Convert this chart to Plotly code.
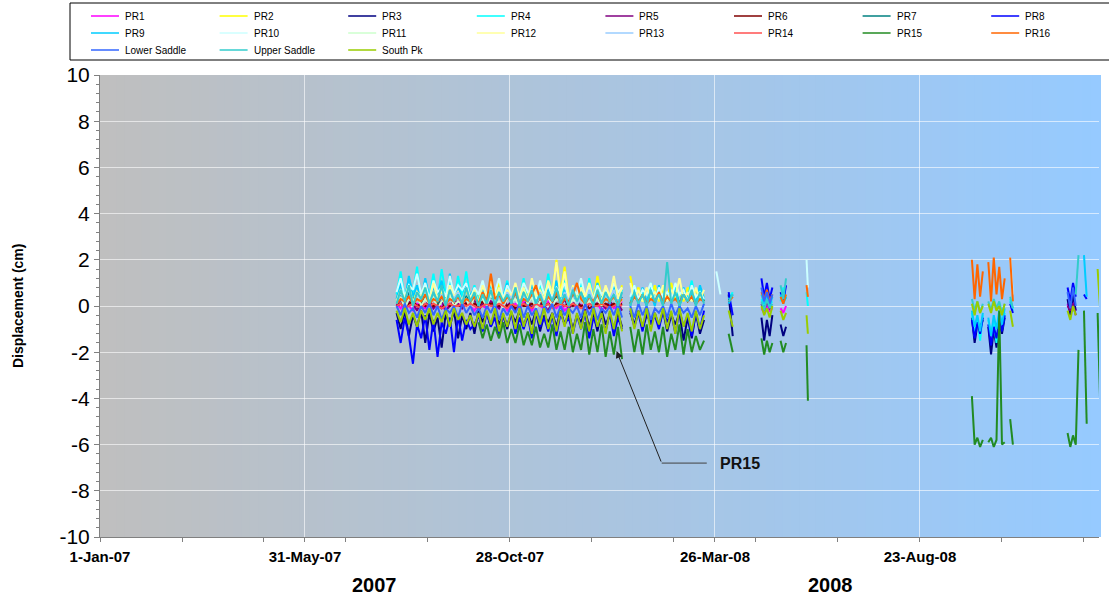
import plotly.graph_objects as go
import pandas as pd

# ---------------- sampling segments (start, step in days, samples) ----------------
SEG_START = ["2007-08-06", "2008-01-21", "2008-04-27", "2008-05-13", "2008-06-01", "2008-09-30", "2008-12-09"]
SEG_STEP = [3, 3, 2, 2, 1, 2, 2]
SEG_COUNT = [56, 28, 6, 3, 2, 16, 13]

NAMES = ["PR1", "PR2", "PR3", "PR4", "PR5", "PR6", "PR7", "PR8",
         "PR9", "PR10", "PR11", "PR12", "PR13", "PR14", "PR15", "PR16",
         "Lower Saddle", "Upper Saddle", "South Pk"]
COLORS = ["#FF00FF", "#FFFF00", "#000080", "#00FFFF", "#800080", "#800000", "#008080", "#0000FF",
          "#00CCFF", "#CCFFFF", "#CCFFCC", "#FFFF99", "#99CCFF", "#FF5050", "#228B22", "#FF6600",
          "#3366FF", "#33CCCC", "#99CC00"]

Y_TICKS = [-10, -8, -6, -4, -2, 0, 2, 4, 6, 8, 10]
Y_TICK_TEXT = ["-10", "-8", "-6", "-4", "-2", "0", "2", "4", "6", "8", "10"]

# ---------------- displacement values (cm) ----------------
PR1 = ([0.1, -0.1, 0.2, 0.0, -0.2, 0.1, 0.0, -0.1,
        0.2, -0.1, 0.1, 0.0, -0.2, 0.1, 0.0, 0.2,
        -0.1, 0.1, 0.0, -0.2, 0.1, 0.0, -0.1, 0.2,
        0.0, -0.1, 0.1, -0.2, 0.0, 0.1, -0.1, 0.2,
        0.0, -0.2, 0.1, 0.0, -0.1, 0.2, 0.0, -0.1,
        0.1, -0.2, 0.0, 0.1, -0.1, 0.0, 0.2, -0.1,
        0.0, 0.1, -0.2, 0.0, 0.1, -0.1, 0.0, 0.2]
       + [None] * 28
       + [None, -0.1, -0.3, 0.0, -0.2, -0.1]
       + [-0.1, -0.3, 0.0]
       + [None] * 2 + [None] * 16
       + [0.1, -0.3, 0.2, -0.2] + [None] * 9)

PR2 = ([0.3, 0.6, 0.2, 0.8, 0.4, 0.5, 0.2, 0.7,
        0.3, 0.6, 0.1, 0.5, 0.3, 0.8, 0.2, 0.6,
        0.4, 0.7, 0.2, 0.5, 0.3, 0.9, 0.2, 0.6,
        0.4, 1.0, 0.3, 0.7, 0.2, 0.8, 0.4, 1.1,
        0.3, 0.6, 0.2, 0.9, 0.4, 1.2, 0.5, 2.0,
        0.6, 1.7, 0.3, 0.8, 0.4, 1.0, 0.2, 0.7,
        0.3, 1.3, 0.4, 0.8, 0.2, 0.6, 0.3, 0.9]
       + [None, 1.3, 0.4, 0.8, 0.2, 0.6, 0.3, 0.9,
          0.2, 0.7, 0.4, 1.0, 0.3, 0.6, 0.2, 0.8,
          0.4, 0.7, 0.3, 0.5] + [None] * 8
       + [None] * 6 + [None] * 3 + [None] * 2 + [None] * 16 + [None] * 13)

PR3 = ([-0.3, -1.0, -0.2, -1.3, -0.4, -0.9, -0.2, -1.6,
        -0.3, -1.1, -0.5, -1.8, -0.3, -0.9, -0.2, -1.4,
        -0.4, -1.0, -0.3, -1.2, -0.2, -0.7, -0.3, -0.9,
        -0.2, -0.8, -0.4, -1.0, -0.3, -0.7, -0.2, -0.9,
        -0.3, -0.8, -0.2, -1.1, -0.4, -0.7, -0.3, -0.9,
        -0.2, -0.8, -0.3, -1.0, -0.4, -0.7, -0.2, -0.9,
        -0.3, -1.1, -0.2, -0.8, -0.4, -1.0, -0.3, -0.9]
       + [None, -0.3, -0.8, -0.2, -1.0, -0.4, -0.7, -0.3,
          -0.9, -0.2, -1.1, -0.4, -0.8, -0.3, -1.5, -0.5,
          -1.4, -0.3, -1.2, -0.6, None, None, None, None,
          None, 0.5, -1.3, None]
       + [None, -0.5, -1.5, -0.6, -1.3, -0.4]
       + [-0.8, -1.3, -0.9]
       + [None, None]
       + [-0.5, -1.6, -0.8, -1.0, -0.6, None, -0.9, -2.1,
          -1.0, -1.8, -0.7, -1.2, -0.5, None, None, None]
       + [0.3, -0.4, 0.5, -0.2] + [None] * 9)

PR4 = ([0.5, 1.5, 0.3, 1.2, 0.6, 1.7, 0.2, 1.1,
        0.4, 1.4, 0.3, 1.6, 0.5, 1.0, 0.2, 1.3,
        0.4, 1.5, 0.3, 0.9, 0.2, 1.0, 0.3, 1.3,
        0.1, 0.8, 0.4, 1.1, 0.2, 0.9, 0.3, 1.2,
        0.1, 0.8, 0.2, 1.0, 0.3, 1.4, 0.2, 0.9,
        0.1, 1.1, 0.3, 0.8, 0.2, 1.0, 0.1, 1.2,
        0.3, 0.9, 0.2, 0.8, 0.1, 1.0, 0.3, 0.7]
       + [None, 0.1, 0.9, 0.2, 0.7, 0.0, 1.0, 0.3,
          0.8, 0.1, 0.6, 0.2, 0.9, 0.0, 0.7, 0.3,
          1.1, 0.1, 0.8, 0.2, None, None, None, None,
          None, 0.3, 0.6, None]
       + [None, 0.3, 0.0, 0.4, 0.1, 0.2]
       + [0.2, 0.8, 0.3]
       + [0.6, 0.0]
       + [-0.3, -1.3, -0.5, -1.5, -0.4, None, -0.6, -1.2,
          -0.7, -1.6, -0.5, -1.0, -0.3, None, 0.3, -0.2]
       + [None] * 13)

PR5 = ([0.0, 0.3, -0.1, 0.2, 0.1, -0.2, 0.2, 0.0,
        0.3, -0.1, 0.1, 0.2, -0.2, 0.0, 0.3, 0.1,
        -0.1, 0.2, 0.0, 0.3, -0.2, 0.1, 0.0, 0.2,
        0.1, -0.1, 0.3, 0.0, 0.2, -0.2, 0.1, 0.0,
        0.3, -0.1, 0.2, 0.1, 0.0, -0.2, 0.2, 0.1,
        0.0, 0.3, -0.1, 0.1, 0.2, 0.0, -0.2, 0.1,
        0.3, 0.0, 0.1, -0.1, 0.2, 0.0, 0.1, -0.2]
       + [None] * 28
       + [None, 0.1, -0.2, 0.2, -0.1, 0.0]
       + [None] * 3 + [None] * 2 + [None] * 16
       + [0.0, -0.2, 0.1, -0.4] + [None] * 9)

PR6 = ([0.0, 0.1, 0.0, 0.1, 0.2, 0.0, 0.1, 0.0,
        0.1, 0.0, 0.1, -0.1, 0.1, 0.0, 0.1, 0.0,
        0.0, 0.1, 0.0, 0.1, 0.0, 0.2, 0.0, 0.1,
        0.1, 0.0, 0.1, 0.0, 0.1, -0.1, 0.1, 0.0,
        0.0, 0.1, 0.0, 0.2, 0.0, 0.1, 0.0, 0.1,
        0.1, 0.0, 0.1, 0.0, 0.1, 0.0, 0.1, -0.1,
        0.0, 0.1, 0.0, 0.1, 0.0, 0.1, 0.0, 0.1]
       + [None] * 28 + [None] * 6 + [None] * 3 + [None] * 2 + [None] * 16 + [None] * 13)

PR7 = ([0.2, 0.5, 0.1, 0.6, 0.3, 0.4, 0.1, 0.5,
        0.2, 0.6, 0.1, 0.4, 0.3, 0.5, 0.2, 0.6,
        0.1, 0.4, 0.2, 0.5, 0.1, 0.6, 0.3, 0.4,
        0.2, 0.5, 0.1, 0.4, 0.2, 0.6, 0.1, 0.5,
        0.3, 0.4, 0.2, 0.5, 0.1, 0.6, 0.2, 0.4,
        0.1, 0.5, 0.3, 0.6, 0.2, 0.4, 0.1, 0.5,
        0.2, 0.6, 0.1, 0.4, 0.3, 0.5, 0.2, 0.4]
       + [None, 0.1, 0.5, 0.2, 0.4, 0.1, 0.6, 0.2,
          0.5, 0.1, 0.4, 0.2, 0.6, 0.1, 0.5, 0.2,
          0.4, 0.1, 0.5, 0.2] + [None] * 8
       + [None] * 6 + [None] * 3 + [None] * 2 + [None] * 16 + [None] * 13)

PR8 = ([-0.6, -1.6, -0.5, -1.3, -2.5, -0.8, -1.4, -0.4,
        -1.9, -0.6, -2.2, -0.7, -1.2, -0.5, -2.0, -0.4,
        -1.5, -0.6, -1.0, -0.8, -0.4, -1.1, -0.3, -0.9,
        -0.5, -1.3, -0.4, -0.8, -0.3, -1.2, -0.5, -1.0,
        -0.4, -1.4, -0.3, -0.9, -0.5, -1.1, -0.4, -1.3,
        -0.3, -0.8, -0.5, -1.2, -0.4, -1.0, -0.3, -1.4,
        -0.5, -0.9, -0.4, -1.1, -0.3, -1.3, -0.5, -1.0]
       + [None, -0.2, -0.9, -0.3, -1.1, -0.2, -0.8, -0.4,
          -1.0, -0.2, -0.7, -0.3, -1.2, -0.2, -0.9, -0.4,
          -1.3, -0.3, -1.0, -0.2, None, None, None, None,
          None, 0.6, -0.4, None]
       + [None, 1.2, 0.4, 1.0, 0.3, 0.8]
       + [0.6, 0.2, 0.9]
       + [None, None]
       + [-0.6, -1.4, -0.7, -1.2, -0.5, None, -0.8, -1.7,
          -0.9, -1.4, -0.6, -1.1, -0.4, None, 0.1, -0.3]
       + [0.8, 0.2, 1.0, 0.4, None, None, 0.5, 0.3] + [None] * 5)

PR9 = ([0.3, 1.0, 0.1, 1.3, 0.4, 0.9, 0.2, 1.2,
        0.3, 0.8, 0.5, 1.1, 0.2, 1.4, 0.3, 0.9,
        0.1, 1.0, 0.4, 0.8, 0.1, 0.7, 0.2, 0.9,
        0.0, 0.6, 0.3, 1.0, 0.1, 0.8, 0.2, 0.7,
        0.0, 0.9, 0.2, 0.6, 0.1, 0.8, 0.3, 1.1,
        0.1, 0.7, 0.2, 0.9, 0.0, 0.6, 0.2, 0.8,
        0.1, 1.0, 0.3, 0.7, 0.1, 0.9, 0.2, 0.6]
       + [None, 0.0, 0.7, 0.1, 0.8, 0.2, 0.6, 0.0,
          0.9, 0.1, 0.5, 0.3, 0.7, 0.0, 0.8, 0.2,
          0.6, 0.1, 0.9, 0.3, None, None, None, None,
          None, 0.1, 0.5, None]
       + [None, 0.5, 0.1, 0.6, 0.0, 0.4]
       + [0.5, 0.1, 0.4]
       + [None, None]
       + [-0.2, -0.9, -0.4, -1.1, -0.3, None, -0.5, -1.3,
          -0.4, -1.0, -0.2, -0.8, -0.1, None, 0.2, -0.1]
       + [None] * 6 + [2.2, 0.4] + [None] * 5)

PR10 = ([0.6, 1.2, 0.4, 0.9, 0.7, 1.4, 0.5, 1.0,
         0.3, 1.1, 0.6, 0.8, 0.4, 1.3, 0.5, 0.9,
         0.7, 1.0, 0.3, 0.8, 0.5, 1.1, 0.4, 0.7,
         0.6, 1.2, 0.3, 0.9, 0.5, 0.8, 0.4, 1.0,
         0.6, 0.7, 0.3, 1.1, 0.5, 0.9, 0.4, 0.8,
         0.6, 1.0, 0.3, 0.7, 0.5, 1.2, 0.4, 0.8,
         0.3, 0.9, 0.5, 0.7, 0.4, 1.0, 0.6, 0.8]
        + [None, 0.4, 0.9, 0.3, 0.7, 0.5, 1.0, 0.2,
           0.8, 0.4, 0.6, 0.3, 1.0, 0.5, 0.7, 0.2,
           0.9, 0.4, 0.6, 0.3, None, None, 1.5, 0.5,
           None, None, None, None]
        + [None] * 6 + [None] * 3
        + [2.0, 0.8]
        + [None] * 14 + [2.1, 0.5]
        + [None] * 13)

PR11 = ([0.1, 0.4, -0.1, 0.3, 0.2, 0.5, 0.0, 0.3,
         0.1, 0.4, -0.1, 0.2, 0.3, 0.5, 0.0, 0.2,
         0.1, 0.3, -0.1, 0.4, 0.2, 0.3, 0.0, 0.5,
         0.1, 0.2, -0.1, 0.4, 0.2, 0.3, 0.0, 0.5,
         0.1, 0.4, -0.1, 0.2, 0.3, 0.4, 0.0, 0.3,
         0.2, 0.5, 0.0, 0.3, 0.1, 0.4, -0.1, 0.2,
         0.1, 0.3, 0.0, 0.5, 0.2, 0.4, 0.0, 0.3]
        + [None] * 28 + [None] * 6 + [None] * 3 + [None] * 2 + [None] * 16 + [None] * 13)

PR12 = ([0.2, 0.7, 0.3, 0.9, 0.1, 0.6, 0.4, 0.8,
         0.2, 1.0, 0.3, 0.7, 0.1, 0.9, 0.4, 0.6,
         0.2, 0.8, 0.3, 0.7, 0.1, 0.9, 0.4, 1.1,
         0.3, 0.8, 0.2, 0.7, 0.4, 1.0, 0.3, 0.8,
         0.2, 1.2, 0.4, 0.7, 0.3, 1.1, 0.5, 1.9,
         0.4, 1.5, 0.3, 0.9, 0.2, 0.8, 0.4, 1.0,
         0.3, 0.7, 0.2, 0.9, 0.4, 1.3, 0.3, 0.8]
        + [None, 1.0, 0.3, 0.7, 0.2, 0.8, 0.4, 0.6,
           0.3, 0.9, 0.2, 0.7, 0.4, 1.2, 0.3, 0.6,
           0.2, 0.8, 0.3, 0.7] + [None] * 8
        + [None] * 6 + [None] * 3 + [None] * 2 + [None] * 16 + [None] * 13)

PR13 = ([0.1, 0.6, 0.2, 0.8, 0.0, 0.5, 0.3, 0.7,
         0.1, 0.6, 0.2, 0.5, 0.0, 0.7, 0.3, 0.6,
         0.1, 0.8, 0.2, 0.5, 0.0, 0.6, 0.1, 0.7,
         0.2, 0.5, 0.0, 0.6, 0.3, 0.8, 0.1, 0.5,
         0.2, 0.7, 0.0, 0.6, 0.1, 0.5, 0.3, 0.7,
         0.0, 0.6, 0.2, 0.8, 0.1, 0.5, 0.0, 0.7,
         0.2, 0.6, 0.1, 0.5, 0.3, 0.7, 0.0, 0.6]
        + [None] * 28 + [None] * 6 + [None] * 3 + [None] * 2 + [None] * 16 + [None] * 13)

PR14 = ([0.0, 0.1, -0.1, 0.0, 0.1, 0.0, -0.1, 0.1,
         0.0, 0.1, 0.0, -0.1, 0.0, 0.1, 0.0, 0.0,
         0.1, 0.0, 0.1, 0.0, -0.1, 0.0, 0.1, 0.0,
         0.0, 0.1, 0.0, -0.1, 0.1, 0.0, 0.0, 0.1,
         0.0, -0.1, 0.1, 0.0, 0.0, 0.1, -0.1, 0.0,
         0.1, 0.0, 0.0, 0.1, 0.0, -0.1, 0.0, 0.1,
         0.0, 0.0, 0.1, 0.0, -0.1, 0.0, 0.1, 0.0]
        + [None] * 28 + [None] * 6 + [None] * 3 + [None] * 2 + [None] * 16 + [None] * 13)

PR15 = ([None] * 20
        + [-0.7, -1.4, -0.8, -1.5, -0.9, -1.4, -0.7, -1.6,
           -1.0, -1.6, -0.8, -1.7, -1.1, -1.7, -0.9, -1.8,
           -1.2, -1.8, -0.8, -1.9, -1.1, -1.9, -0.9, -2.0,
           -1.2, -1.9, -0.7, -2.1, -1.0, -2.0, -0.8, -2.2,
           -1.1, -2.1, -0.9, -2.3]
        + [None, -0.9, -2.0, -1.0, -2.1, -0.8, -1.9, -1.1,
           -2.0, -0.9, -2.2, -1.2, -1.9, -0.8, -2.1, -1.0,
           -2.0, -1.3, -1.9, -1.5, None, None, None, None,
           None, -1.2, -2.0, None]
        + [None, -1.4, -2.1, -1.5, -2.0, -1.6]
        + [-1.5, -2.0, -1.6]
        + [-1.7, -4.1]
        + [-3.9, -6.0, -5.7, -6.1, -5.8, None, -5.9, -5.7,
           -6.1, -5.8, -0.2, -6.0, -5.9, None, -4.9, -6.0]
        + [-5.5, -6.1, -5.6, -6.0, -1.9, None, -0.2, -5.1,
           None, None, None, -0.3, -4.5])

PR16 = ([0.1, 0.3, 0.2, 0.4, 0.1, 0.3, 0.2, 0.5,
         0.1, 0.3, 0.2, 0.4, 0.1, 0.3, 0.2, 0.4,
         0.1, 0.3, 0.2, 0.4, 0.1, 0.6, 0.2, 1.4,
         0.3, 0.5, 0.1, 0.4, 0.2, 0.6, 0.1, 0.3,
         0.2, 0.5, 0.9, 0.3, 0.1, 0.4, 0.2, 0.6,
         0.1, 0.3, 0.2, 0.5, 1.0, 0.3, 0.1, 0.4,
         0.2, 0.5, 0.1, 0.3, 0.2, 0.4, 0.1, 0.3]
        + [None, 0.1, 0.4, 0.2, 0.5, 0.1, 0.3, 0.2,
           0.6, 0.1, 0.4, 0.2, 0.3, 0.1, 0.5, 0.2,
           0.4, 0.1, 0.3, 0.2, None, None, None, None,
           None, 0.2, 0.4, None]
        + [None, 0.6, 0.3, 0.7, 0.2, 0.5]
        + [0.4, 0.1, 0.5]
        + [0.9, 0.4]
        + [2.0, 0.3, 1.8, 0.4, 1.5, None, 1.9, 0.2,
           2.1, 0.5, 1.7, 0.3, 1.2, None, 2.1, 0.2]
        + [None] * 13)

LOWER_SADDLE = ([0.0, -0.4, 0.1, -0.3, -0.1, -0.5, 0.0, -0.3,
                 0.1, -0.4, 0.0, -0.6, -0.1, -0.3, 0.0, -0.5,
                 0.1, -0.3, 0.0, -0.4, -0.1, -0.5, 0.0, -0.3,
                 0.1, -0.6, -0.1, -0.4, 0.0, -0.3, 0.1, -0.5,
                 0.0, -0.4, -0.1, -0.6, 0.0, -0.3, 0.1, -0.5,
                 0.0, -0.4, -0.1, -0.3, 0.0, -0.5, 0.1, -0.4,
                 0.0, -0.6, -0.1, -0.3, 0.0, -0.4, 0.1, -0.5]
                + [None, 0.0, -0.5, 0.1, -0.4, 0.0, -0.6, -0.1,
                   -0.3, 0.0, -0.5, 0.1, -0.4, 0.0, -0.3, -0.1,
                   -0.5, 0.0, -0.4, 0.1] + [None] * 8
                + [None, 0.8, 0.2, 0.6, 0.1, 0.5]
                + [None] * 3 + [None] * 2 + [None] * 16
                + [0.6, -0.1, 0.8, 0.0] + [None] * 9)

UPPER_SADDLE = ([0.1, 0.7, 0.2, 0.9, 0.0, 0.6, 0.3, 0.8,
                 0.1, 0.6, 0.2, 0.9, 0.0, 0.7, 0.2, 0.5,
                 0.1, 0.8, 0.2, 0.6, 0.0, 0.5, 0.1, 0.7,
                 0.0, 0.6, 0.2, 0.5, 0.1, 0.8, 0.0, 0.6,
                 0.2, 0.7, 0.1, 0.5, 0.0, 0.6, 0.2, 0.8,
                 0.1, 0.5, 0.0, 0.7, 0.2, 0.6, 0.1, 0.5,
                 0.0, 0.7, 0.1, 0.6, 0.2, 0.5, 0.0, 0.6]
                + [None, 0.0, 0.6, 0.1, 0.5, 0.0, 0.7, 0.2,
                   0.5, 0.0, 1.9, 0.1, 0.6, 0.0, 0.5, 0.2,
                   0.7, 0.0, 0.6, 0.1, None, None, None, None,
                   None, 0.2, 0.5, None]
                + [None, 0.2, -0.2, 0.3, -0.1, 0.1]
                + [0.9, 0.3, 1.2]
                + [None, None]
                + [0.3, -0.2, 0.2, -0.3, 0.1, None, 0.2, -0.2,
                   0.3, -0.1, 0.2, -0.3, 0.1, None, 0.4, -0.1]
                + [None, None, None, 0.5, 2.2] + [None] * 8)

SOUTH_PK = ([-0.2, -0.7, -0.1, -0.8, -0.3, -0.9, -0.2, -0.6,
             -0.1, -0.8, -0.3, -0.7, -0.2, -0.9, -0.1, -0.6,
             -0.3, -0.8, -0.4, -0.9, -0.3, -1.0, -0.2, -0.8,
             -0.1, -1.1, -0.3, -0.9, -0.2, -1.0, -0.1, -0.9,
             -0.3, -1.2, -0.2, -0.8, -0.1, -1.0, -0.3, -1.1,
             -0.2, -0.9, -0.1, -1.2, -0.3, -1.0, -0.2, -1.1,
             -0.1, -0.9, -0.3, -1.2, -0.2, -1.0, -0.1, -1.1]
            + [None, -0.1, -1.0, -0.2, -0.9, -0.1, -1.1, -0.3,
               -0.8, -0.1, -1.0, -0.2, -1.2, -0.1, -0.9, -0.3,
               -1.1, -0.2, -1.0, -0.4, None, None, None, None,
               None, -0.2, -0.9, None]
            + [None, 0.0, -0.4, -0.1, -0.5, 0.0]
            + [-0.2, -0.6, -0.3]
            + [-0.4, -1.2]
            + [0.1, -0.4, 0.2, -0.3, 0.0, None, 0.1, -0.3,
               0.2, -0.2, 0.0, -0.4, 0.1, None, -0.2, -0.9]
            + [-0.2, -0.6, 0.0, -0.4, None, None, None, None,
               None, None, None, 1.6, -0.3])

SERIES = [PR1, PR2, PR3, PR4, PR5, PR6, PR7, PR8, PR9, PR10, PR11, PR12, PR13, PR14,
          PR15, PR16, LOWER_SADDLE, UPPER_SADDLE, SOUTH_PK]

TOTAL = sum(SEG_COUNT)
for nm, s in zip(NAMES, SERIES):
    if len(s) != TOTAL:
        raise ValueError(f"{nm}: {len(s)} values, expected {TOTAL}")


def build_xy(vals):
    xs, ys, i = [], [], 0
    for start, step, n in zip(SEG_START, SEG_STEP, SEG_COUNT):
        dates = pd.date_range(start, periods=n, freq=f"{step}D")
        xs.extend(d.strftime("%Y-%m-%d") for d in dates)
        ys.extend(vals[i:i + n])
        xs.append(None)
        ys.append(None)
        i += n
    return xs, ys


fig = go.Figure()
for nm, col, vals in zip(NAMES, COLORS, SERIES):
    xs, ys = build_xy(vals)
    fig.add_trace(go.Scatter(x=xs, y=ys, mode="lines", name=nm, showlegend=False,
                             line=dict(color=col, width=2), connectgaps=False))

FONT = "Arial, Liberation Sans, sans-serif"

# ---- layout geometry (pixels) ----
W, H = 1109, 599
ML, MR, MT, MB = 100, 10, 75, 62
PW, PH = W - ML - MR, H - MT - MB


def px_x(px):
    return (px - ML) / PW


def px_y(py):
    return 1 + (MT - py) / PH


# ---- gradient plot background (gray -> light blue) ----
shapes = []
N = 120
c0 = (191, 191, 191)
c1 = (150, 202, 255)
for i in range(N):
    t = i / (N - 1)
    c = tuple(int(round(c0[k] + (c1[k] - c0[k]) * t)) for k in range(3))
    shapes.append(dict(type="rect", xref="paper", yref="paper",
                       x0=i / N, x1=(i + 1) / N + 0.002, y0=0, y1=1,
                       fillcolor=f"rgb{c}", line=dict(width=0), layer="below"))

# legend box
shapes.append(dict(type="rect", xref="paper", yref="paper",
                   x0=px_x(70), x1=px_x(1120), y0=px_y(60), y1=px_y(3),
                   fillcolor="white", line=dict(color="black", width=1), layer="below"))

annotations = []

# legend entries (3 rows x 8 columns, row-major like the reference)
LEG_X0, LEG_DX, LEG_Y0, LEG_DY = 91, 128.6, 16, 17
for idx, (nm, col) in enumerate(zip(NAMES, COLORS)):
    r, c = divmod(idx, 8)
    sx = LEG_X0 + c * LEG_DX
    sy = LEG_Y0 + r * LEG_DY
    shapes.append(dict(type="line", xref="paper", yref="paper",
                       x0=px_x(sx), x1=px_x(sx + 28), y0=px_y(sy), y1=px_y(sy),
                       line=dict(color=col, width=1.5)))
    annotations.append(dict(x=px_x(sx + 32), y=px_y(sy), xref="paper", yref="paper",
                            text=nm, showarrow=False, xanchor="left", yanchor="middle",
                            font=dict(family=FONT, size=10, color="black")))

# PR15 callout leader (horizontal part)
shapes.append(dict(type="line", xref="x", yref="y",
                   x0="2008-02-16", x1="2008-03-20", y0=-6.8, y1=-6.8,
                   line=dict(color="#404040", width=1)))

annotations += [
    dict(x="2008-01-14", y=-1.95, ax="2008-02-16", ay=-6.8, axref="x", ayref="y",
         xref="x", yref="y", text="", showarrow=True, arrowhead=2, arrowsize=1.4,
         arrowwidth=1, arrowcolor="#202020"),
    dict(x="2008-04-13", y=-6.8, xref="x", yref="y", text="<b>PR15</b>", showarrow=False,
         font=dict(family=FONT, size=16, color="#111111")),
    dict(x=px_x(18), y=0.5, xref="paper", yref="paper", text="<b>Displacement (cm)</b>",
         textangle=-90, showarrow=False, xanchor="center", yanchor="middle",
         font=dict(family=FONT, size=14, color="black")),
    dict(x=px_x(350), y=px_y(585), xref="paper", yref="paper", text="<b>2007</b>",
         showarrow=False, yanchor="middle", font=dict(family=FONT, size=20, color="black")),
    dict(x=px_x(855), y=px_y(585), xref="paper", yref="paper", text="<b>2008</b>",
         showarrow=False, yanchor="middle", font=dict(family=FONT, size=20, color="black")),
]

DAY_MS = 86400000
fig.update_layout(
    width=W, height=H,
    margin=dict(l=ML, r=MR, t=MT, b=MB),
    paper_bgcolor="white",
    plot_bgcolor="rgba(0,0,0,0)",
    font=dict(family=FONT, color="black"),
    shapes=shapes,
    annotations=annotations,
    showlegend=False,
    xaxis=dict(type="date", range=["2007-01-01", "2009-01-01"],
               tick0="2007-01-01", dtick=150 * DAY_MS, tickformat="%-d-%b-%y",
               tickfont=dict(family=FONT, size=15, color="black", weight="bold"),
               ticks="outside", ticklen=4, tickcolor="#808080",
               ticklabelstandoff=2,
               showline=True, linecolor="#808080", linewidth=1,
               showgrid=True, gridcolor="rgba(255,255,255,0.6)", gridwidth=1,
               zeroline=False,
               minor=dict(tick0="2007-01-01", dtick=60 * DAY_MS, ticks="outside",
                          ticklen=4, tickcolor="#808080", showgrid=False)),
    yaxis=dict(range=[-10, 10], tickmode="array", tickvals=Y_TICKS, ticktext=Y_TICK_TEXT,
               tickfont=dict(family=FONT, size=21, color="black"),
               ticks="outside", ticklen=5, tickcolor="#808080",
               showline=True, linecolor="#808080", linewidth=1,
               showgrid=True, gridcolor="rgba(255,255,255,0.6)", gridwidth=1,
               zeroline=False,
               minor=dict(tickmode="linear", tick0=0, dtick=0.4, ticks="outside",
                          ticklen=3, tickcolor="#808080", showgrid=False)),
)

fig.write_html("out.html")
